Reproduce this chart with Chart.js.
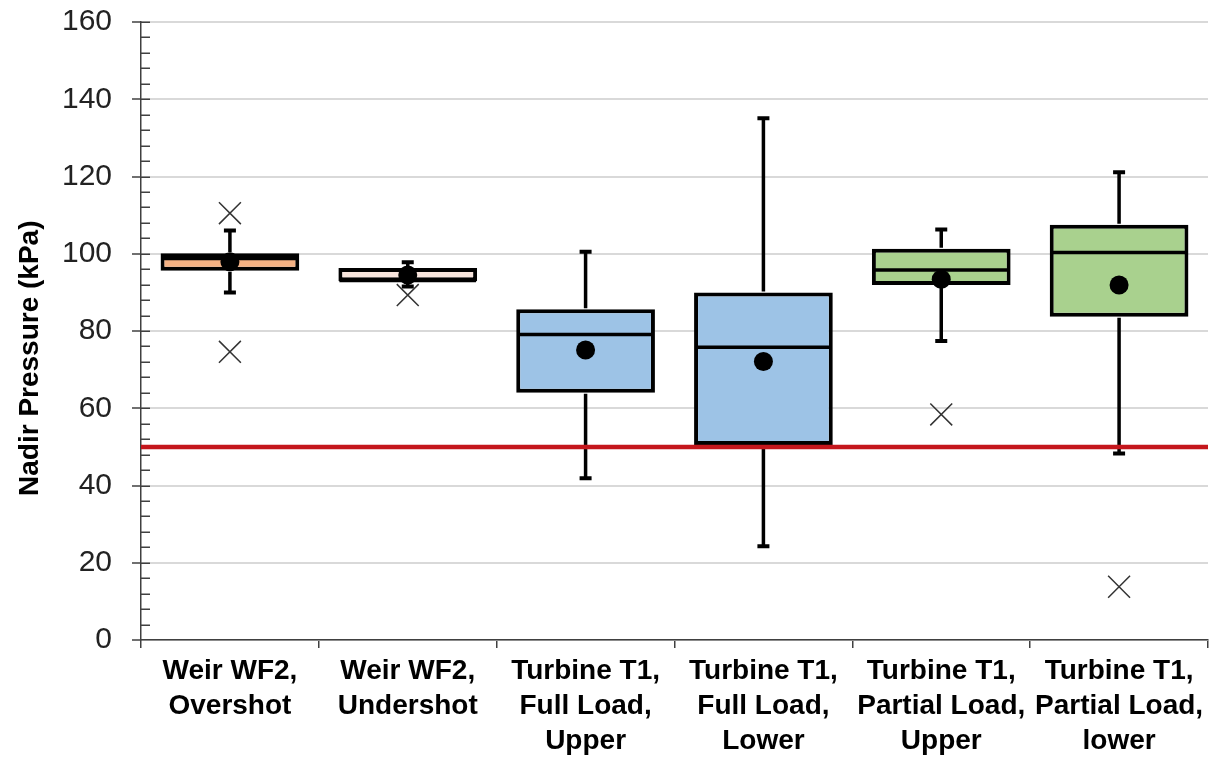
<!DOCTYPE html>
<html>
<head>
<meta charset="utf-8">
<script src="https://cdn.jsdelivr.net/npm/chart.js@4.4.1/dist/chart.umd.min.js"></script>
<style>
  html, body { margin: 0; padding: 0; background: #fff; }
  #wrap { width: 1215px; height: 758px; }
</style>
</head>
<body>
<div id="wrap"><canvas id="boxChart" width="1215" height="758"></canvas></div>
<script>
// Categories (multi-line tick labels)
const categories = [
    ['Weir WF2,', 'Overshot'],
    ['Weir WF2,', 'Undershot'],
    ['Turbine T1,', 'Full Load,', 'Upper'],
    ['Turbine T1,', 'Full Load,', 'Lower'],
    ['Turbine T1,', 'Partial Load,', 'Upper'],
    ['Turbine T1,', 'Partial Load,', 'lower']
];

// Box plot statistics, kPa
const whiskerLow  = [90.0, 91.5, 41.9, 24.3, 77.4, 48.3];
const q1          = [95.6, 92.9, 64.0, 50.5, 91.9, 83.7];
const medians     = [98.8, 93.1, 79.1, 75.8, 95.8, 100.3];
const q3          = [100.1, 96.3, 85.6, 90.0, 101.3, 107.5];
const whiskerHigh = [106.0, 97.8, 100.5, 135.1, 106.3, 121.1];
const means       = [97.9, 94.5, 75.1, 72.1, 93.4, 91.9];
const outliersHigh = [110.5, null, null, null, null, null];
const outliersLow  = [74.6, 89.3, null, null, 58.4, 13.8];

const boxColors = ['#F4B183', '#F7E4DC', '#9DC3E6', '#9DC3E6', '#A9D18E', '#A9D18E'];
const threshold = 50;  // minimum nadir pressure guideline

// Tick labels for the y axis
const yMin = 0, yMax = 160, yStep = 20, yMinorStep = 4;

// medians, whiskers, caps, threshold line and the inner minor ticks
const boxExtras = {
    id: 'boxExtras',
    afterDatasetDraw(chart, args) {
        if (args.index !== 0) return;
        const { ctx, chartArea, scales: { y } } = chart;
        const bars = args.meta.data;
        ctx.save();
        ctx.strokeStyle = '#000';
        ctx.lineCap = 'butt';

        bars.forEach((bar, i) => {
            const half = bar.width / 2;
            const ym = y.getPixelForValue(medians[i]);
            ctx.lineWidth = 3.5;
            ctx.beginPath();
            ctx.moveTo(bar.x - half + 1, ym);
            ctx.lineTo(bar.x + half - 1, ym);
            ctx.stroke();

            // whiskers
            const yHi = y.getPixelForValue(whiskerHigh[i]);
            const yLo = y.getPixelForValue(whiskerLow[i]);
            const yQ3 = y.getPixelForValue(q3[i]);
            const yQ1 = y.getPixelForValue(q1[i]);
            ctx.lineWidth = 3.5;
            ctx.beginPath();
            ctx.moveTo(bar.x, yQ3 - 1);
            ctx.lineTo(bar.x, yHi);
            ctx.moveTo(bar.x, yQ1 + 1);
            ctx.lineTo(bar.x, yLo);
            ctx.stroke();

            // caps
            ctx.lineWidth = 4;
            ctx.beginPath();
            ctx.moveTo(bar.x - 6, yHi);
            ctx.lineTo(bar.x + 6, yHi);
            ctx.moveTo(bar.x - 6, yLo);
            ctx.lineTo(bar.x + 6, yLo);
            ctx.stroke();
        });

        // threshold line
        const yt = y.getPixelForValue(threshold);
        ctx.strokeStyle = '#C4161C';
        ctx.lineWidth = 4.5;
        ctx.beginPath();
        ctx.moveTo(chartArea.left, yt);
        ctx.lineTo(chartArea.right, yt);
        ctx.stroke();

        // ticks inside the axis, every 4 kPa
        ctx.strokeStyle = '#404040';
        ctx.lineWidth = 1.5;
        ctx.beginPath();
        for (let v = yMin + yMinorStep; v <= yMax; v += yMinorStep) {
            const py = Math.round(y.getPixelForValue(v)) + 0.25;
            ctx.moveTo(chartArea.left, py);
            ctx.lineTo(chartArea.left + 9, py);
        }
        ctx.stroke();
        ctx.restore();
    }
};

const ctx = document.getElementById('boxChart').getContext('2d');
const boxChart = new Chart(ctx, {
    data: {
        labels: categories,
        datasets: [
            {
                type: 'bar',
                label: 'Box',
                data: q1.map((v, i) => [v, q3[i]]),
                backgroundColor: boxColors,
                borderColor: '#000',
                borderWidth: 4,
                borderSkipped: false,
                barPercentage: 0.78,
                categoryPercentage: 1,
                order: 3
            },
            {
                type: 'line',
                label: 'Outliers high',
                data: outliersHigh,
                showLine: false,
                pointStyle: 'crossRot',
                pointRadius: 15.5,
                pointBorderColor: '#333',
                pointBorderWidth: 1.5,
                order: 2
            },
            {
                type: 'line',
                label: 'Outliers low',
                data: outliersLow,
                showLine: false,
                pointStyle: 'crossRot',
                pointRadius: 15.5,
                pointBorderColor: '#333',
                pointBorderWidth: 1.5,
                order: 2
            },
            {
                type: 'line',
                label: 'Mean',
                data: means,
                showLine: false,
                pointRadius: 9.5,
                pointBackgroundColor: '#000',
                pointBorderColor: '#000',
                pointBorderWidth: 0,
                order: 1
            }
        ]
    },
    options: {
        responsive: false,
        devicePixelRatio: 1,
        animation: false,
        layout: { autoPadding: false, padding: { top: 22, right: 7, left: 0, bottom: 0 } },
        plugins: {
            legend: { display: false },
            tooltip: { enabled: false }
        },
        scales: {
            x: {
                type: 'category',
                offset: true,
                grid: {
                    display: true,
                    drawOnChartArea: false,
                    offset: true,
                    tickLength: 8,
                    color: '#404040',
                    lineWidth: 1.5
                },
                border: { color: '#404040', width: 1.5 },
                ticks: {
                    autoSkip: false,
                    maxRotation: 0,
                    padding: 6,
                    color: '#000',
                    font: { family: '"Liberation Sans", Arial, sans-serif', size: 28, weight: 'bold', lineHeight: 1.25 }
                },
                afterFit: (scale) => {
                    scale.height = 118;
                    scale.paddingLeft = 0;
                    scale.paddingRight = 0;
                }
            },
            y: {
                min: yMin,
                max: yMax,
                ticks: {
                    stepSize: yStep,
                    padding: 20,
                    color: '#222',
                    font: { family: '"Liberation Sans", Arial, sans-serif', size: 30 }
                },
                grid: {
                    color: '#d9d9d9',
                    lineWidth: 2,
                    tickColor: '#404040',
                    tickLength: 9,
                    tickWidth: 1.5
                },
                border: { color: '#404040', width: 1.5 },
                title: {
                    display: true,
                    // trailing spaces nudge the rotated title down, as in the original
                    text: 'Nadir Pressure (kPa)\u00a0\u00a0\u00a0\u00a0\u00a0\u00a0\u00a0',
                    color: '#000',
                    padding: { top: 13, bottom: 0 },
                    font: { family: '"Liberation Sans", Arial, sans-serif', size: 28, weight: 'bold' }
                },
                afterFit: (scale) => {
                    scale.width = 141;
                    scale.paddingTop = 0;
                    scale.paddingBottom = 0;
                }
            }
        }
    },
    plugins: [boxExtras]
});
</script>
</body>
</html>
